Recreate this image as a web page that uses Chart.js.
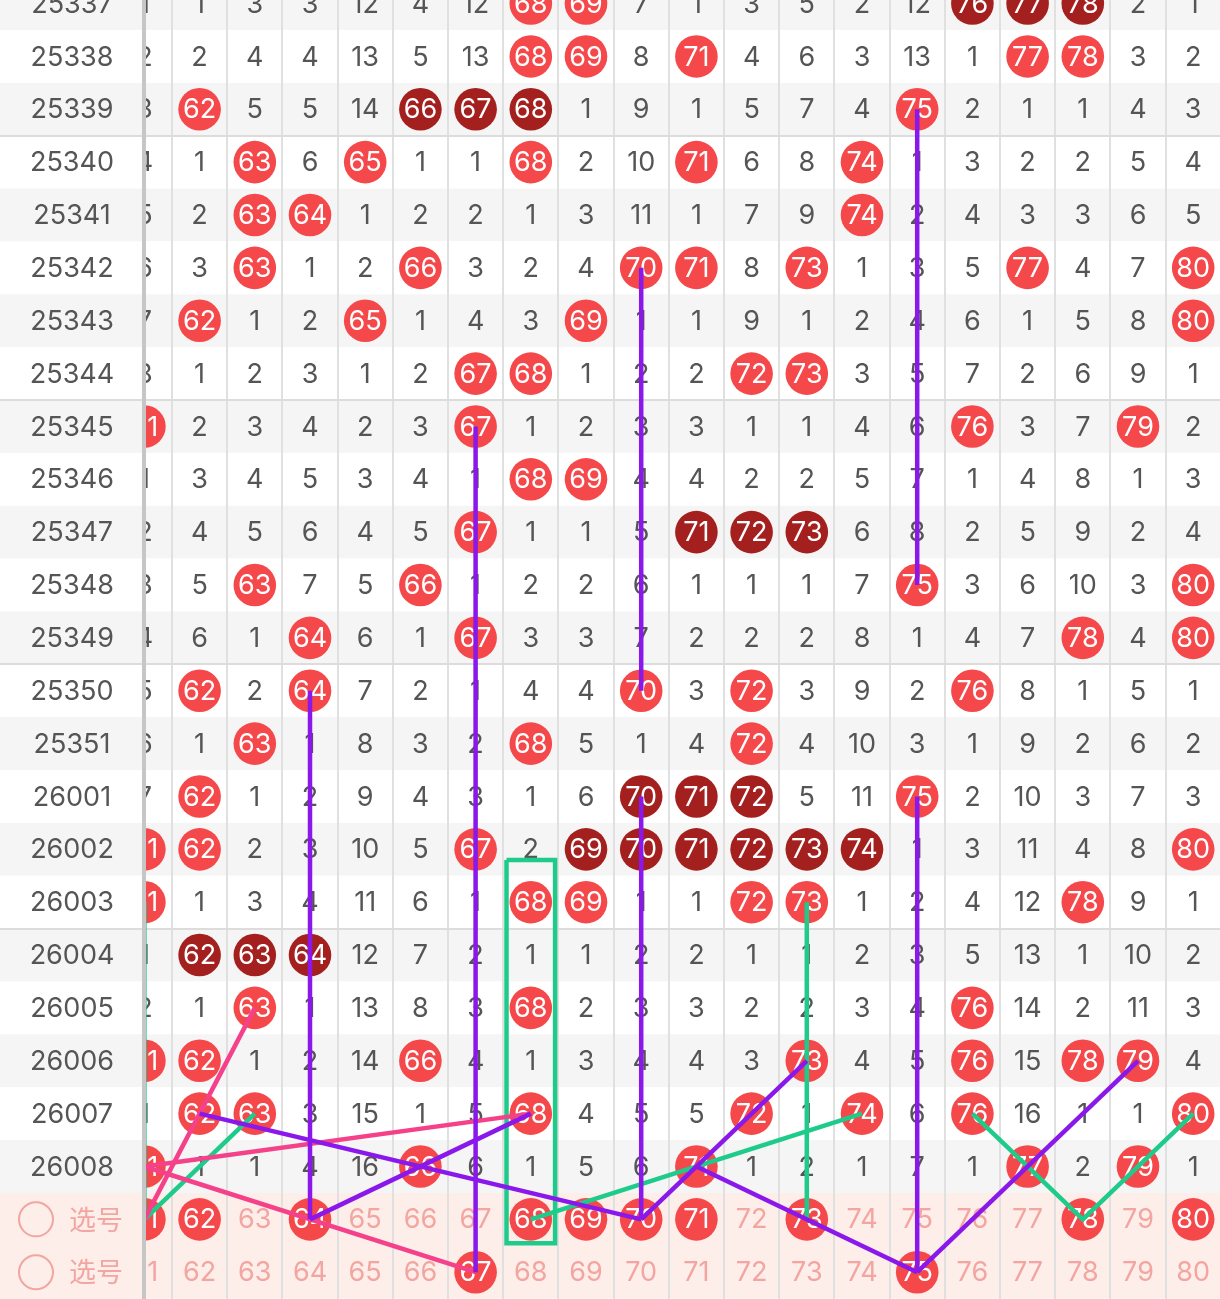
<!DOCTYPE html>
<html>
<head>
<meta charset="utf-8">
<script src="https://cdn.jsdelivr.net/npm/chart.js@4/dist/chart.umd.min.js"></script>
<style>
html,body{margin:0;padding:0;background:#fff;overflow:hidden}
#wrap{width:1220px;height:1299px;position:relative}
</style>
</head>
<body>
<div id="wrap"><canvas id="c"></canvas></div>
<script>
// ---------------- DATA ----------------
const periods = ['25337','25338','25339','25340','25341','25342','25343','25344','25345','25346','25347','25348','25349','25350','25351','26001','26002','26003','26004','26005','26006','26007','26008'];
const numbers = [61,62,63,64,65,66,67,68,69,70,71,72,73,74,75,76,77,78,79,80];
const pickLabels = ['选号','选号'];
// omission counts per period for numbers 61..80 (0 = drawn that period)
const omissions = [
  [1,1,3,3,12,4,12,0,0,7,1,3,5,2,12,0,0,0,2,1],
  [2,2,4,4,13,5,13,0,0,8,0,4,6,3,13,1,0,0,3,2],
  [3,0,5,5,14,0,0,0,1,9,1,5,7,4,0,2,1,1,4,3],
  [4,1,0,6,0,1,1,0,2,10,0,6,8,0,1,3,2,2,5,4],
  [5,2,0,0,1,2,2,1,3,11,1,7,9,0,2,4,3,3,6,5],
  [6,3,0,1,2,0,3,2,4,0,0,8,0,1,3,5,0,4,7,0],
  [7,0,1,2,0,1,4,3,0,1,1,9,1,2,4,6,1,5,8,0],
  [8,1,2,3,1,2,0,0,1,2,2,0,0,3,5,7,2,6,9,1],
  [0,2,3,4,2,3,0,1,2,3,3,1,1,4,6,0,3,7,0,2],
  [1,3,4,5,3,4,1,0,0,4,4,2,2,5,7,1,4,8,1,3],
  [2,4,5,6,4,5,0,1,1,5,0,0,0,6,8,2,5,9,2,4],
  [3,5,0,7,5,0,1,2,2,6,1,1,1,7,0,3,6,10,3,0],
  [4,6,1,0,6,1,0,3,3,7,2,2,2,8,1,4,7,0,4,0],
  [5,0,2,0,7,2,1,4,4,0,3,0,3,9,2,0,8,1,5,1],
  [6,1,0,1,8,3,2,0,5,1,4,0,4,10,3,1,9,2,6,2],
  [7,0,1,2,9,4,3,1,6,0,0,0,5,11,0,2,10,3,7,3],
  [0,0,2,3,10,5,0,2,0,0,0,0,0,0,1,3,11,4,8,0],
  [0,1,3,4,11,6,1,0,0,1,1,0,0,1,2,4,12,0,9,1],
  [1,0,0,0,12,7,2,1,1,2,2,1,1,2,3,5,13,1,10,2],
  [2,1,0,1,13,8,3,0,2,3,3,2,2,3,4,0,14,2,11,3],
  [0,0,1,2,14,0,4,1,3,4,4,3,0,4,5,0,15,0,0,4],
  [1,0,0,3,15,1,5,0,4,5,5,0,1,0,6,0,16,1,1,0],
  [0,1,1,4,16,0,6,1,5,6,0,1,2,1,7,1,0,2,0,1]
];
const pick1 = [61,62,64,68,69,70,71,73,78,80];
const pick2 = [67,75];
// connecting lines: [number, row]
const purpleLines = [
  [[75,'25339'],[75,'25348']],
  [[70,'25342'],[70,'25350']],
  [[67,'25345'],[67,'P2']],
  [[64,'25350'],[64,'P1']],
  [[70,'26001'],[70,'P1']],
  [[75,'26001'],[75,'P2']],
  [[62,'26007'],[70,'P1']],
  [[64,'P1'],[68,'26007']],
  [[73,'26006'],[70,'P1']],
  [[71,'26008'],[75,'P2']],
  [[75,'P2'],[79,'26006']]
];
const pinkLines = [
  [[61,'26008'],[68,'26007']],
  [[61,'26008'],[67,'P2']],
  [[61,'P1'],[63,'26005']]
];
const greenLines = [
  [[61,'P1'],[63,'26007']],
  [[68,'P1'],[74,'26007']],
  [[73,'26003'],[73,'P1']],
  [[76,'26007'],[78,'P1'],[80,'26007']],
  [[61,'26003'],[61,'P1']]
];
const greenBox = {number: 68, from: '26003', to: 'P1'};

// ---------------- STYLE / LAYOUT ----------------
const W = 1220, H = 1299;
const COL_W = 55.2, FIRST_COL_X = 144.4;
const ROW_H = 52.86, FIRST_ROW_Y = 3.57;
const PANEL_W = 146;
const RED = '#f4484a', DARK = '#a4201f';
const PURPLE = '#8a18ea', PINK = '#f4418a', GREEN = '#1fcb8b';
const GRAY_BG = '#f5f5f5', PICK_BG = '#fdeee9';
const TEXT = '#555555', PICK_TEXT = '#f3a5a1';
const FONT = '27px Inter, "Noto Sans", sans-serif';
const CJK_FONT = '27px "Noto Sans CJK SC", sans-serif';

const rowKeys = periods.concat(['P1','P2']);
const rowIdx = k => rowKeys.indexOf(k);

// circles
const hits = [];
omissions.forEach((row, i) => {
  row.forEach((v, j) => {
    if (v === 0) {
      let run = 1, a = j - 1, b = j + 1;
      while (a >= 0 && row[a] === 0) { run++; a--; }
      while (b < row.length && row[b] === 0) { run++; b++; }
      hits.push({x: numbers[j], y: i, dark: run >= 3});
    }
  });
});
pick1.forEach(n => hits.push({x: n, y: rowIdx('P1'), dark: false}));
pick2.forEach(n => hits.push({x: n, y: rowIdx('P2'), dark: false}));

const lineDs = (pts, color) => ({
  type: 'scatter', showLine: true, data: pts.map(p => ({x: p[0], y: rowIdx(p[1])})),
  borderColor: color, backgroundColor: color, borderWidth: 4.5, pointRadius: 0, pointHoverRadius: 0,
  tension: 0, order: 1, borderCapStyle: 'butt'
});

const datasets = [{
  type: 'scatter', data: hits, pointRadius: 21.3, pointHoverRadius: 21.3, borderWidth: 0,
  pointBorderWidth: 0,
  pointBackgroundColor: ctx => (ctx.raw && ctx.raw.dark) ? DARK : RED,
  order: 5
}];
purpleLines.forEach(l => datasets.push(lineDs(l, PURPLE)));
pinkLines.forEach(l => datasets.push(lineDs(l, PINK)));
greenLines.forEach(l => datasets.push(lineDs(l, GREEN)));
{
  const x0 = greenBox.number - 0.44, x1 = greenBox.number + 0.44;
  const y0 = rowIdx(greenBox.from) - 0.8, y1 = rowIdx(greenBox.to) + 0.45;
  const box = lineDs([], GREEN);
  box.data = [{x:x0,y:y0},{x:x1,y:y0},{x:x1,y:y1},{x:x0,y:y1},{x:x0,y:y0}];
  box.borderJoinStyle = 'miter';
  datasets.push(box);
}

const xMin = numbers[0] - FIRST_COL_X / COL_W;
const yMin = -FIRST_ROW_Y / ROW_H;

const tablePlugin = {
  id: 'table',
  beforeDatasetsDraw(chart) {
    const {ctx, scales: {x, y}} = chart;
    ctx.save();
    rowKeys.forEach((k, i) => {
      const t = y.getPixelForValue(i - 0.5), b = y.getPixelForValue(i + 0.5);
      ctx.fillStyle = i >= periods.length ? PICK_BG : (i % 2 === 0 ? GRAY_BG : '#ffffff');
      ctx.fillRect(0, t, W, b - t);
    });
    ctx.fillStyle = '#e0e0e0';
    numbers.forEach(n => {
      const px = x.getPixelForValue(n + 0.5);
      ctx.fillRect(Math.round(px) - 1, 0, 2, H);
    });
    ctx.fillStyle = '#dcdcdc';
    periods.forEach((p, i) => {
      if (i % 5 === 2 && i < periods.length - 1) {
        const py = y.getPixelForValue(i + 0.5);
        ctx.fillRect(0, Math.round(py) - 1, W, 2);
      }
    });
    ctx.font = FONT; ctx.textAlign = 'center'; ctx.textBaseline = 'middle';
    ctx.fillStyle = TEXT;
    omissions.forEach((row, i) => row.forEach((v, j) => {
      if (v !== 0) ctx.fillText(String(v), x.getPixelForValue(numbers[j]), y.getPixelForValue(i) + 1);
    }));
    ctx.fillStyle = PICK_TEXT;
    [pick1, pick2].forEach((pk, r) => {
      const i = periods.length + r;
      numbers.forEach(n => { if (!pk.includes(n)) ctx.fillText(String(n), x.getPixelForValue(n), y.getPixelForValue(i) + 1); });
    });
    ctx.restore();
  },
  afterDatasetDraw(chart, args) {
    if (args.index !== 0) return;
    const {ctx, scales: {x, y}} = chart;
    ctx.save();
    ctx.font = FONT; ctx.textAlign = 'center'; ctx.textBaseline = 'middle'; ctx.fillStyle = '#ffffff';
    hits.forEach(h => ctx.fillText(String(h.x), x.getPixelForValue(h.x), y.getPixelForValue(h.y) + 1));
    ctx.restore();
  },
  afterDatasetsDraw(chart) {
    const {ctx, scales: {y}} = chart;
    ctx.save();
    rowKeys.forEach((k, i) => {
      const t = y.getPixelForValue(i - 0.5), b = y.getPixelForValue(i + 0.5), c = y.getPixelForValue(i);
      const pick = i >= periods.length;
      ctx.fillStyle = pick ? PICK_BG : (i % 2 === 0 ? GRAY_BG : '#ffffff');
      ctx.fillRect(0, t, PANEL_W, b - t);
      ctx.textBaseline = 'middle';
      if (!pick) {
        ctx.font = FONT; ctx.textAlign = 'center'; ctx.fillStyle = TEXT;
        ctx.fillText(k, 72, c + 1);
      } else {
        ctx.strokeStyle = PICK_TEXT; ctx.lineWidth = 2;
        ctx.beginPath(); ctx.arc(36, c, 17, 0, Math.PI * 2); ctx.stroke();
        ctx.font = CJK_FONT; ctx.textAlign = 'center'; ctx.fillStyle = PICK_TEXT;
        ctx.fillText(pickLabels[i - periods.length], 96, c);
      }
    });
    ctx.fillStyle = '#dcdcdc';
    periods.forEach((p, i) => {
      if (i % 5 === 2 && i < periods.length - 1) {
        const py = y.getPixelForValue(i + 0.5);
        ctx.fillRect(0, Math.round(py) - 1, PANEL_W, 2);
      }
    });
    ctx.fillStyle = '#c6c6c6';
    ctx.fillRect(142, 0, 4, H);
    ctx.restore();
  }
};

new Chart(document.getElementById('c'), {
  type: 'scatter',
  data: {datasets},
  options: {
    responsive: true, maintainAspectRatio: false, animation: false, events: [],
    layout: {padding: 0, autoPadding: false},
    plugins: {legend: {display: false}, tooltip: {enabled: false}},
    scales: {
      x: {type: 'linear', display: false, min: xMin, max: xMin + W / COL_W},
      y: {type: 'linear', display: false, reverse: true, min: yMin, max: yMin + H / ROW_H}
    }
  },
  plugins: [tablePlugin]
});
</script>
</body>
</html>
